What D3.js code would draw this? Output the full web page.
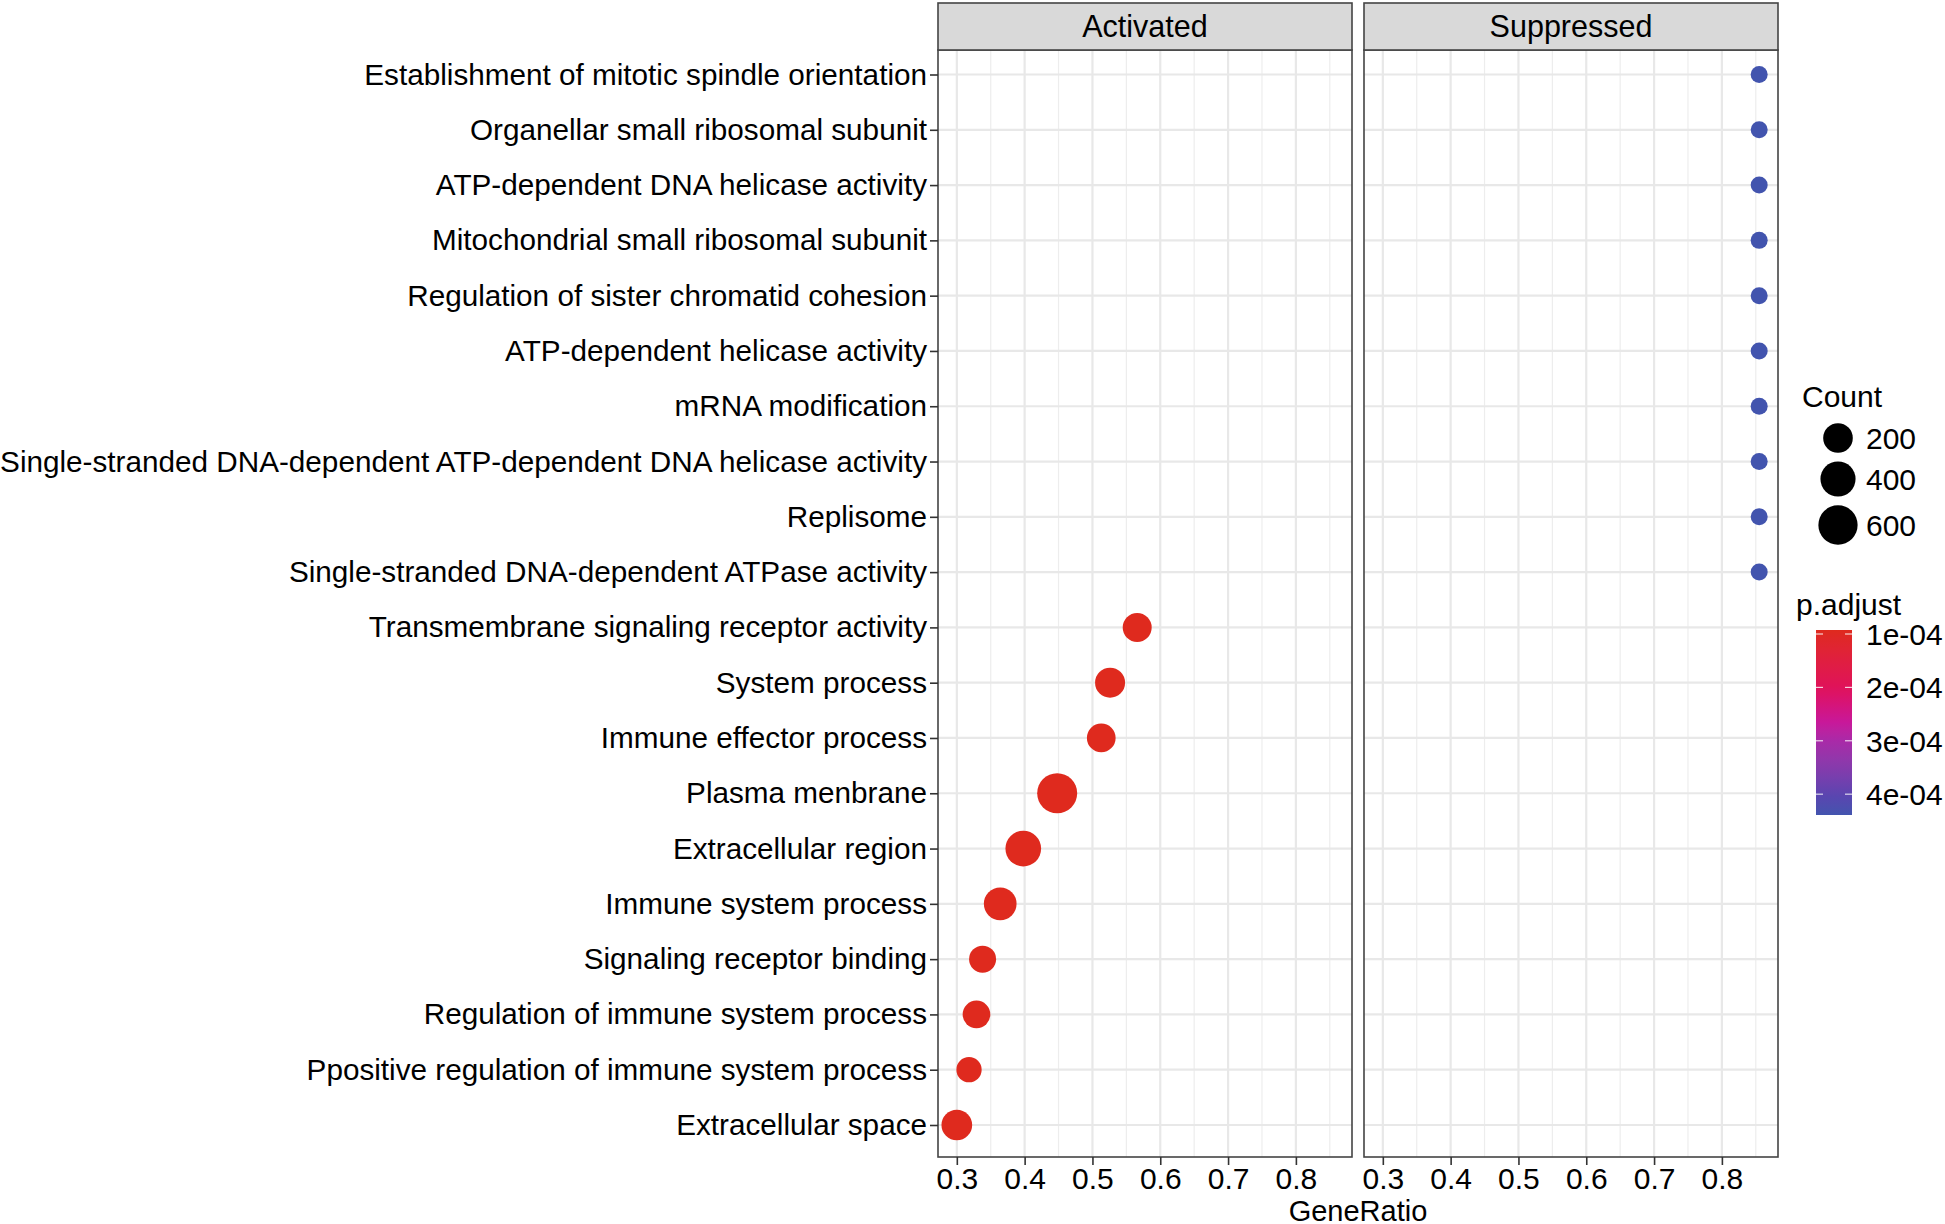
<!DOCTYPE html>
<html>
<head>
<meta charset="utf-8">
<script src="https://cdn.jsdelivr.net/npm/d3@7"></script>
<style>
  body { margin: 0; background: #fff; }
  svg text { font-family: "Liberation Sans", Arial, sans-serif; fill: #000; }
</style>
</head>
<body>
<script>
// terms, top to bottom
const terms = [
  "Establishment of mitotic spindle orientation",
  "Organellar small ribosomal subunit",
  "ATP-dependent DNA helicase activity",
  "Mitochondrial small ribosomal subunit",
  "Regulation of sister chromatid cohesion",
  "ATP-dependent helicase activity",
  "mRNA modification",
  "Single-stranded DNA-dependent ATP-dependent DNA helicase activity",
  "Replisome",
  "Single-stranded DNA-dependent ATPase activity",
  "Transmembrane signaling receptor activity",
  "System process",
  "Immune effector process",
  "Plasma menbrane",
  "Extracellular region",
  "Immune system process",
  "Signaling receptor binding",
  "Regulation of immune system process",
  "Ppositive regulation of immune system process",
  "Extracellular space"
];
const groups = [
  "Suppressed", "Suppressed", "Suppressed", "Suppressed", "Suppressed",
  "Suppressed", "Suppressed", "Suppressed", "Suppressed", "Suppressed",
  "Activated", "Activated", "Activated", "Activated", "Activated",
  "Activated", "Activated", "Activated", "Activated", "Activated"
];
const geneRatio = [0.855, 0.855, 0.855, 0.855, 0.855, 0.855, 0.855, 0.855, 0.855, 0.855,
                   0.566, 0.526, 0.513, 0.448, 0.398, 0.364, 0.338, 0.329, 0.318, 0.300];
const counts = [10, 10, 10, 10, 10, 10, 10, 10, 10, 10,
                181, 211, 173, 640, 426, 304, 129, 146, 92, 234];
const pAdjust = [4.39e-4, 4.39e-4, 4.39e-4, 4.39e-4, 4.39e-4, 4.39e-4, 4.39e-4, 4.39e-4, 4.39e-4, 4.39e-4,
                 9.25e-5, 9.25e-5, 9.25e-5, 9.25e-5, 9.25e-5, 9.25e-5, 9.25e-5, 9.25e-5, 9.25e-5, 9.25e-5];

const facets = ["Activated", "Suppressed"];
const xTicks = [0.3, 0.4, 0.5, 0.6, 0.7, 0.8];
const xMinor = [0.35, 0.45, 0.55, 0.65, 0.75, 0.85];
const countBreaks = [200, 400, 600];
const pBreaks = [1e-4, 2e-4, 3e-4, 4e-4];

const width = 1945, height = 1224;

const panelTop = 50, panelBottom = 1157, stripTop = 3;
const panelLeft = [938, 1364], panelW = 414;
const firstRow = 74.5, lastRow = 1125;

const data = terms.map(function(t, i) {
  return {term: t, group: groups[i], ratio: geneRatio[i], count: counts[i], p: pAdjust[i]};
});

// ggplot-like 5% expansion of the x range
const xExt = d3.extent(geneRatio);
const xPad = (xExt[1] - xExt[0]) * 0.05;

const y = d3.scalePoint()
  .domain(terms)
  .range([firstRow, lastRow]);

const cExt = d3.extent(counts);
const size = d3.scaleSqrt().domain([0, cExt[1] - cExt[0]]).range([17, 40]);
function radius(c) { return size(c - cExt[0]) / 2; }

const pExt = d3.extent(pAdjust);
const pt = d3.scaleLinear().domain(pExt).range([0, 1]);
const color = d3.scaleLinear()
  .domain([0, 0.31, 0.5, 0.6, 0.887, 1])
  .range(["#df2a1e", "#e0125a", "#c8189a", "#a92aa8", "#5c44b0", "#4254ae"])
  .interpolate(d3.interpolateLab);

const svg = d3.select("body").append("svg")
  .attr("width", width)
  .attr("height", height);

svg.append("rect").attr("width", width).attr("height", height).attr("fill", "#fff");

facets.forEach(function(f, k) {
  const x0 = panelLeft[k];
  const x = d3.scaleLinear()
    .domain([xExt[0] - xPad, xExt[1] + xPad])
    .range([x0, x0 + panelW]);

  const g = svg.append("g");

  // grid
  g.selectAll(".minor").data(xMinor).enter().append("line")
    .attr("x1", d => x(d)).attr("x2", d => x(d))
    .attr("y1", panelTop).attr("y2", panelBottom)
    .attr("stroke", "#ededed").attr("stroke-width", 1.2);
  g.selectAll(".major").data(xTicks).enter().append("line")
    .attr("x1", d => x(d)).attr("x2", d => x(d))
    .attr("y1", panelTop).attr("y2", panelBottom)
    .attr("stroke", "#e8e8e8").attr("stroke-width", 2.2);
  g.selectAll(".hmajor").data(terms).enter().append("line")
    .attr("x1", x0).attr("x2", x0 + panelW)
    .attr("y1", d => y(d)).attr("y2", d => y(d))
    .attr("stroke", "#e8e8e8").attr("stroke-width", 2.2);

  // points
  g.selectAll("circle").data(data.filter(d => d.group == f)).enter().append("circle")
    .attr("cx", d => x(d.ratio))
    .attr("cy", d => y(d.term))
    .attr("r", d => radius(d.count))
    .attr("fill", d => color(pt(d.p)));

  // border
  g.append("rect")
    .attr("x", x0).attr("y", panelTop)
    .attr("width", panelW).attr("height", panelBottom - panelTop)
    .attr("fill", "none").attr("stroke", "#444").attr("stroke-width", 1.6);

  // strip
  g.append("rect")
    .attr("x", x0).attr("y", stripTop)
    .attr("width", panelW).attr("height", panelTop - stripTop)
    .attr("fill", "#d9d9d9").attr("stroke", "#444").attr("stroke-width", 1.6);
  g.append("text")
    .attr("x", x0 + panelW / 2).attr("y", 37)
    .attr("text-anchor", "middle")
    .attr("font-size", 30.5)
    .text(f);

  // x axis
  const xAxis = g.append("g")
    .attr("transform", "translate(0," + panelBottom + ")")
    .call(d3.axisBottom(x).tickValues(xTicks).tickSize(8).tickPadding(3).tickFormat(d3.format(".1f")));
  xAxis.select(".domain").remove();
  xAxis.selectAll(".tick line").attr("stroke", "#333").attr("stroke-width", 1.6);
  xAxis.selectAll(".tick text").attr("font-size", 30).attr("fill", "#000")
    .attr("font-family", "Liberation Sans, Arial, sans-serif");
});

// y axis on the first panel
const yAxis = svg.append("g")
  .attr("transform", "translate(" + panelLeft[0] + ",0)")
  .call(d3.axisLeft(y).tickSize(8).tickPadding(3));
yAxis.select(".domain").remove();
yAxis.selectAll(".tick line").attr("stroke", "#333").attr("stroke-width", 1.6);
yAxis.selectAll(".tick text").attr("font-size", 29.7).attr("fill", "#000")
  .attr("font-family", "Liberation Sans, Arial, sans-serif");

// x title
svg.append("text")
  .attr("x", (panelLeft[0] + panelLeft[1] + panelW) / 2).attr("y", 1221)
  .attr("text-anchor", "middle")
  .attr("font-size", 29)
  .text("GeneRatio");

// size legend
svg.append("text").attr("x", 1802).attr("y", 407).attr("font-size", 30).text("Count");
const legY = d3.scaleOrdinal().domain(countBreaks).range([438, 479, 525]);
const sl = svg.append("g").selectAll("g").data(countBreaks).enter().append("g");
sl.append("circle")
  .attr("cx", 1838).attr("cy", d => legY(d))
  .attr("r", d => radius(d))
  .attr("fill", "#000");
sl.append("text")
  .attr("x", 1866).attr("y", d => legY(d)).attr("dy", "0.36em")
  .attr("font-size", 30)
  .text(d => d);

// colour bar
svg.append("text").attr("x", 1796).attr("y", 615).attr("font-size", 30).text("p.adjust");
const barTop = 630, barBottom = 815, barX = 1816, barW = 36;
const barY = d3.scaleLinear().domain(pExt).range([barTop, barBottom]);
const defs = svg.append("defs");
const grad = defs.append("linearGradient").attr("id", "pgrad")
  .attr("x1", 0).attr("x2", 0).attr("y1", 0).attr("y2", 1);
d3.range(0, 1.0001, 0.05).forEach(function(t) {
  grad.append("stop").attr("offset", t).attr("stop-color", color(t));
});
svg.append("rect")
  .attr("x", barX).attr("y", barTop)
  .attr("width", barW).attr("height", barBottom - barTop)
  .attr("fill", "url(#pgrad)");
const cb = svg.append("g").selectAll("g").data(pBreaks).enter().append("g");
cb.append("line")
  .attr("x1", barX).attr("x2", barX + 7)
  .attr("y1", d => barY(d)).attr("y2", d => barY(d))
  .attr("stroke", "#fff").attr("stroke-width", 1.2).attr("opacity", 0.8);
cb.append("line")
  .attr("x1", barX + barW - 7).attr("x2", barX + barW)
  .attr("y1", d => barY(d)).attr("y2", d => barY(d))
  .attr("stroke", "#fff").attr("stroke-width", 1.2).attr("opacity", 0.8);
cb.append("text")
  .attr("x", 1866).attr("y", d => barY(d)).attr("dy", "0.36em")
  .attr("font-size", 30)
  .text(d => d3.format(".0e")(d).replace("e-4", "e-04"));
</script>
</body>
</html>
